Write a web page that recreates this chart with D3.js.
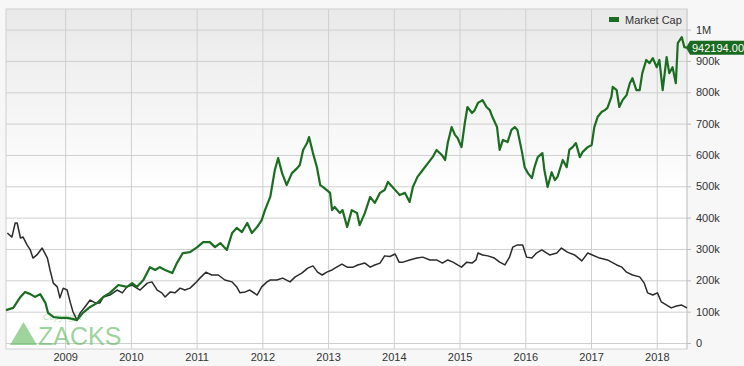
<!DOCTYPE html>
<html>
<head>
<meta charset="UTF-8">
<title>Market Cap</title>
<style>
  body { margin: 0; background: #f7f7f7; font-family: "Liberation Sans", Arial, sans-serif; }
  svg { display: block; }
  .tick text { font-size: 11px; fill: #333; font-family: "Liberation Sans", Arial, sans-serif; }
</style>
<script src="https://d3js.org/d3.v7.min.js"></script>
</head>
<body>
<div id="chart"></div>
<script>
// market cap (thousands), x as decimal years
const capYears = [2008.10, 2008.21, 2008.32, 2008.39, 2008.47, 2008.54, 2008.62, 2008.70, 2008.74, 2008.82,
  2008.92, 2009.03, 2009.11, 2009.18, 2009.27, 2009.38, 2009.49, 2009.58, 2009.68, 2009.81,
  2009.94, 2010.02, 2010.09, 2010.19, 2010.29, 2010.37, 2010.44, 2010.52, 2010.63, 2010.70,
  2010.79, 2010.90, 2011.01, 2011.10, 2011.20, 2011.28, 2011.36, 2011.46, 2011.54, 2011.61,
  2011.69, 2011.77, 2011.84, 2011.92, 2011.99, 2012.04, 2012.12, 2012.19, 2012.24, 2012.30,
  2012.37, 2012.45, 2012.53, 2012.57, 2012.62, 2012.68, 2012.71, 2012.77, 2012.83, 2012.88,
  2012.92, 2012.98, 2013.03, 2013.06, 2013.10, 2013.18, 2013.22, 2013.29, 2013.36, 2013.44,
  2013.48, 2013.56, 2013.64, 2013.71, 2013.79, 2013.86, 2013.91, 2013.98, 2014.06, 2014.09,
  2014.17, 2014.24, 2014.29, 2014.36, 2014.44, 2014.52, 2014.59, 2014.65, 2014.73, 2014.78,
  2014.82, 2014.88, 2014.93, 2014.97, 2015.03, 2015.08, 2015.12, 2015.19, 2015.23, 2015.28,
  2015.35, 2015.41, 2015.46, 2015.50, 2015.57, 2015.61, 2015.66, 2015.73, 2015.79, 2015.84,
  2015.88, 2015.95, 2015.99, 2016.04, 2016.10, 2016.14, 2016.19, 2016.26, 2016.29, 2016.34,
  2016.40, 2016.45, 2016.49, 2016.57, 2016.63, 2016.67, 2016.72, 2016.77, 2016.83, 2016.87,
  2016.95, 2017.01, 2017.05, 2017.10, 2017.16, 2017.21, 2017.25, 2017.31, 2017.33, 2017.39,
  2017.43, 2017.48, 2017.54, 2017.59, 2017.63, 2017.69, 2017.74, 2017.78, 2017.84, 2017.89,
  2017.94, 2018.00, 2018.04, 2018.09, 2018.15, 2018.19, 2018.24, 2018.29, 2018.32, 2018.38,
  2018.42, 2018.46];
const capValues = [105, 112, 147, 163, 156, 147, 156, 128, 96, 83,
  80, 80, 77, 73, 96, 115, 128, 147, 160, 185,
  179, 191, 179, 201, 242, 233, 242, 233, 223, 255,
  287, 290, 306, 322, 322, 306, 319, 297, 351, 367,
  354, 383, 351, 370, 392, 424, 466, 552, 590, 542,
  504, 542, 558, 568, 616, 638, 657, 606, 561, 504,
  498, 488, 479, 424, 434, 415, 424, 370, 424, 415,
  376, 415, 466, 447, 479, 488, 514, 498, 479, 472,
  479, 450, 498, 530, 552, 574, 593, 616, 600, 584,
  638, 689, 664, 654, 625, 702, 753, 734, 743, 766,
  775, 753, 743, 721, 689, 616, 648, 641, 680, 689,
  680, 609, 561, 542, 526, 561, 593, 606, 552, 498,
  545, 520, 530, 584, 561, 616, 625, 638, 593, 609,
  625, 632, 689, 721, 737, 743, 750, 785, 817, 807,
  753, 775, 791, 829, 845, 807, 807, 861, 903, 893,
  909, 880, 903, 807, 912, 861, 880, 829, 957, 976,
  944, 942.194];

// second (unlabelled) series, same scale
const priceYears = [2008.12, 2008.19, 2008.24, 2008.27, 2008.32, 2008.36, 2008.42, 2008.47, 2008.51, 2008.57,
  2008.65, 2008.73, 2008.77, 2008.82, 2008.88, 2008.92, 2008.97, 2009.03, 2009.08, 2009.12,
  2009.18, 2009.23, 2009.30, 2009.38, 2009.46, 2009.53, 2009.58, 2009.68, 2009.79, 2009.87,
  2009.94, 2010.02, 2010.09, 2010.14, 2010.25, 2010.32, 2010.40, 2010.47, 2010.52, 2010.60,
  2010.67, 2010.75, 2010.82, 2010.90, 2010.98, 2011.05, 2011.14, 2011.23, 2011.33, 2011.43,
  2011.54, 2011.61, 2011.66, 2011.74, 2011.81, 2011.92, 2011.99, 2012.07, 2012.12, 2012.22,
  2012.31, 2012.42, 2012.50, 2012.60, 2012.69, 2012.77, 2012.84, 2012.91, 2012.98, 2013.06,
  2013.13, 2013.21, 2013.29, 2013.38, 2013.45, 2013.56, 2013.64, 2013.71, 2013.79, 2013.86,
  2013.94, 2014.02, 2014.08, 2014.14, 2014.24, 2014.35, 2014.44, 2014.55, 2014.65, 2014.74,
  2014.82, 2014.90, 2014.97, 2015.03, 2015.11, 2015.19, 2015.25, 2015.28, 2015.35, 2015.43,
  2015.53, 2015.61, 2015.69, 2015.76, 2015.81, 2015.88, 2015.96, 2016.02, 2016.10, 2016.17,
  2016.25, 2016.37, 2016.48, 2016.55, 2016.64, 2016.75, 2016.86, 2016.95, 2017.02, 2017.13,
  2017.25, 2017.39, 2017.47, 2017.54, 2017.63, 2017.74, 2017.81, 2017.86, 2017.94, 2018.01,
  2018.07, 2018.15, 2018.22, 2018.30, 2018.38, 2018.46];
const priceValues = [351, 338, 383, 383, 335, 338, 313, 297, 271, 281,
  303, 271, 233, 191, 179, 144, 175, 169, 128, 99,
  73, 96, 115, 137, 128, 128, 147, 153, 169, 160,
  179, 185, 175, 169, 191, 195, 169, 160, 147, 163,
  160, 175, 169, 175, 191, 207, 226, 217, 217, 201,
  195, 179, 160, 163, 169, 153, 179, 195, 201, 201,
  207, 195, 211, 223, 239, 246, 226, 217, 226, 233,
  242, 252, 242, 242, 249, 255, 242, 249, 255, 278,
  276, 284, 258, 258, 265, 271, 274, 265, 265, 255,
  265, 258, 249, 242, 258, 255, 265, 287, 281, 278,
  271, 258, 249, 274, 306, 313, 313, 274, 271, 287,
  297, 281, 287, 303, 290, 281, 262, 287, 281, 271,
  265, 249, 242, 226, 217, 211, 191, 160, 153, 160,
  131, 121, 112, 118, 121, 112];

const yearTicks = [2009, 2010, 2011, 2012, 2013, 2014, 2015, 2016, 2017, 2018];
const capTicks = [0, 100, 200, 300, 400, 500, 600, 700, 800, 900, 1000];
const capTickLabels = ["0", "100k", "200k", "300k", "400k", "500k", "600k", "700k", "800k", "900k", "1M"];
const lastLabel = "942194.00";

const W = 744, H = 366;
const pL = 6, pR = 687, pT = 9, pB = 349;
const green = "#1b6d21";

const svg = d3.select("#chart").append("svg").attr("width", W).attr("height", H);

const x = d3.scaleLinear().domain([2008.10, 2018.46]).range([pL, pR]);
const y = d3.scaleLinear().domain([0, 1000]).range([343, 29.6]);

const defs = svg.append("defs");
const grad = defs.append("linearGradient").attr("id", "bg").attr("x1", 0).attr("y1", 0).attr("x2", 0).attr("y2", 1);
grad.append("stop").attr("offset", "0%").attr("stop-color", "#e9e9e9");
grad.append("stop").attr("offset", "55%").attr("stop-color", "#ffffff");
grad.append("stop").attr("offset", "100%").attr("stop-color", "#ffffff");

svg.append("rect").attr("x", pL).attr("y", pT).attr("width", pR - pL).attr("height", pB - pT)
  .attr("fill", "url(#bg)").attr("stroke", "#d0d0d0");

// vertical year grid + labels
const xAxis = svg.append("g").attr("transform", `translate(0,${pB})`)
  .call(d3.axisBottom(x).tickValues(yearTicks).tickFormat(d3.format("d")).tickSize(-(pB - pT)).tickPadding(4));
xAxis.select(".domain").remove();
xAxis.selectAll(".tick line").attr("stroke", "#cfcfcf");

// horizontal grid + right labels
const yAxis = svg.append("g").attr("transform", `translate(${pR},0)`)
  .call(d3.axisRight(y).tickValues(capTicks).tickFormat((d, i) => capTickLabels[i]).tickSize(4).tickPadding(5));
yAxis.select(".domain").attr("stroke", "#cfcfcf").attr("d", `M0,${pT}V${pB}`);
yAxis.selectAll(".tick line").attr("stroke", "#bdbdbd");
yAxis.selectAll(".tick").append("line").attr("x1", pL - pR).attr("x2", 0).attr("stroke", "#cfcfcf");

// watermark
const wm = svg.append("g").attr("opacity", 0.6);
wm.append("path").attr("d", "M10,345 L23.5,322 L37,345 Z").attr("fill", "#5cb85c");
wm.append("text").attr("x", 38).attr("y", 345).attr("font-size", 25).attr("fill", "#5cb85c")
  .attr("font-family", "'Liberation Sans', Arial, sans-serif").text("ZACKS");
wm.append("text").attr("x", 43).attr("y", 320).attr("font-size", 9).attr("fill", "#8fcf8f")
  .attr("font-style", "italic").text("Copyright");

const line = d3.line().x(d => x(d[0])).y(d => y(d[1]));

svg.append("path").datum(d3.zip(priceYears, priceValues)).attr("d", line)
  .attr("fill", "none").attr("stroke", "#2b2b2b").attr("stroke-width", 1.5).attr("stroke-linejoin", "round");

svg.append("path").datum(d3.zip(capYears, capValues)).attr("d", line)
  .attr("fill", "none").attr("stroke", green).attr("stroke-width", 2.2).attr("stroke-linejoin", "round");

// legend
svg.append("rect").attr("x", 609).attr("y", 17).attr("width", 10).attr("height", 5).attr("fill", green);
svg.append("text").attr("x", 625).attr("y", 24).attr("font-size", 11).attr("fill", "#333").text("Market Cap");

// last value flag
const ly = y(capValues[capValues.length - 1]);
svg.append("path")
  .attr("d", `M${pR - 1},${ly} L${pR + 3},${ly - 7} H${W} V${ly + 7} H${pR + 3} Z`)
  .attr("fill", "#1a6a1f");
svg.append("text").attr("x", pR + 5).attr("y", ly + 4).attr("font-size", 11).attr("fill", "#fff")
  .text(lastLabel);
</script>
</body>
</html>
